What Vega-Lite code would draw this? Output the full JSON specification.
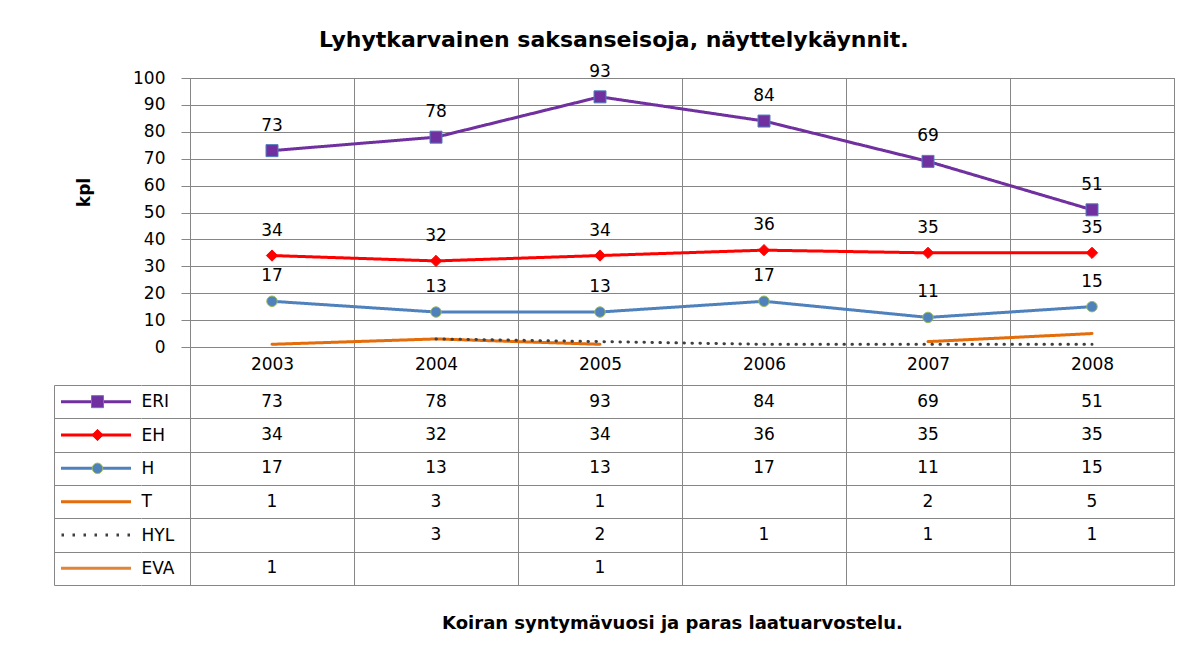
{
  "$schema": "https://vega.github.io/schema/vega-lite/v6.json",
  "background": "white",
  "padding": {"left": 52, "top": 29, "right": 5, "bottom": 5},
  "title": {
    "text": "Lyhytkarvainen saksanseisoja, näyttelykäynnit.",
    "font": "DejaVu Sans",
    "fontSize": 22,
    "fontWeight": "bold",
    "color": "#000000",
    "anchor": "middle",
    "offset": 10
  },
  "datasets": {
    "counts": [
      {"series": "ERI", "year": 2003, "value": 73},
      {"series": "ERI", "year": 2004, "value": 78},
      {"series": "ERI", "year": 2005, "value": 93},
      {"series": "ERI", "year": 2006, "value": 84},
      {"series": "ERI", "year": 2007, "value": 69},
      {"series": "ERI", "year": 2008, "value": 51},
      {"series": "EH", "year": 2003, "value": 34},
      {"series": "EH", "year": 2004, "value": 32},
      {"series": "EH", "year": 2005, "value": 34},
      {"series": "EH", "year": 2006, "value": 36},
      {"series": "EH", "year": 2007, "value": 35},
      {"series": "EH", "year": 2008, "value": 35},
      {"series": "H", "year": 2003, "value": 17},
      {"series": "H", "year": 2004, "value": 13},
      {"series": "H", "year": 2005, "value": 13},
      {"series": "H", "year": 2006, "value": 17},
      {"series": "H", "year": 2007, "value": 11},
      {"series": "H", "year": 2008, "value": 15},
      {"series": "T", "year": 2003, "value": 1},
      {"series": "T", "year": 2004, "value": 3},
      {"series": "T", "year": 2005, "value": 1},
      {"series": "T", "year": 2006, "value": null},
      {"series": "T", "year": 2007, "value": 2},
      {"series": "T", "year": 2008, "value": 5},
      {"series": "HYL", "year": 2003, "value": null},
      {"series": "HYL", "year": 2004, "value": 3},
      {"series": "HYL", "year": 2005, "value": 2},
      {"series": "HYL", "year": 2006, "value": 1},
      {"series": "HYL", "year": 2007, "value": 1},
      {"series": "HYL", "year": 2008, "value": 1},
      {"series": "EVA", "year": 2003, "value": 1},
      {"series": "EVA", "year": 2004, "value": null},
      {"series": "EVA", "year": 2005, "value": 1},
      {"series": "EVA", "year": 2006, "value": null},
      {"series": "EVA", "year": 2007, "value": null},
      {"series": "EVA", "year": 2008, "value": null}
    ]
  },
  "columns": 2,
  "spacing": {"row": 38, "column": 49},
  "bounds": "flush",
  "align": "each",
  "resolve": {"scale": {"strokeDash": "independent"}},
  "concat": [
    {
      "width": 87,
      "height": 269,
      "data": {"values": [{}]},
      "view": {"stroke": null},
      "mark": {"type": "text", "text": ""},
      "encoding": {}
    },
    {
      "width": 984,
      "height": 269,
      "data": {"name": "counts"},
      "encoding": {
        "x": {
          "field": "year",
          "type": "ordinal",
          "bandPosition": 0.5,
          "scale": {"type": "band", "domain": [2003, 2004, 2005, 2006, 2007, 2008], "paddingInner": 0, "paddingOuter": 0},
          "axis": {
            "title": null,
            "tickBand": "extent",
            "grid": true,
            "ticks": true,
            "tickSize": 38,
            "labelPadding": -21,
            "labelBaseline": "middle",
            "labelAngle": 0,
            "domain": true
          }
        },
        "y": {
          "field": "value",
          "type": "quantitative",
          "scale": {"domain": [0, 100], "nice": false},
          "axis": {
            "values": [0, 10, 20, 30, 40, 50, 60, 70, 80, 90, 100],
            "title": "kpl",
            "titleFontWeight": "bold",
            "titleFontSize": 17,
            "titleX": -106,
            "titleY": 114,
            "titleAngle": -90,
            "titleBaseline": "middle",
            "titleAlign": "center",
            "tickSize": 9,
            "labelPadding": 16,
            "grid": true
          }
        }
      },
      "layer": [
        {
          "mark": {"type": "line", "strokeWidth": 3, "strokeCap": "round", "strokeJoin": "round", "invalid": "break-paths-show-domains"},
          "encoding": {
            "color": {
              "field": "series",
              "type": "nominal",
              "scale": {
                "domain": ["ERI", "EH", "H", "T", "HYL", "EVA"],
                "range": ["#7030a0", "#ff0000", "#4f81bd", "#e46c0a", "#404040", "#e0843a"]
              }
            },
            "strokeDash": {
              "field": "series",
              "type": "nominal",
              "scale": {
                "domain": ["ERI", "EH", "H", "T", "HYL", "EVA"],
                "range": [[1, 0], [1, 0], [1, 0], [1, 0], [0.5, 7.5], [1, 0]]
              }
            }
          }
        },
        {
          "transform": [{"filter": {"field": "series", "oneOf": ["ERI", "EH", "H"]}}],
          "mark": {"type": "point", "filled": true, "opacity": 1, "strokeWidth": 1},
          "encoding": {
            "shape": {
              "field": "series",
              "type": "nominal",
              "scale": {"domain": ["ERI", "EH", "H"], "range": ["square", "diamond", "circle"]}
            },
            "fill": {
              "field": "series",
              "type": "nominal",
              "scale": {"domain": ["ERI", "EH", "H"], "range": ["#7030a0", "#ff0000", "#4f81bd"]}
            },
            "stroke": {
              "field": "series",
              "type": "nominal",
              "scale": {"domain": ["ERI", "EH", "H"], "range": ["#4f81bd", "#ff0000", "#9bbb59"]}
            },
            "size": {
              "field": "series",
              "type": "nominal",
              "scale": {"domain": ["ERI", "EH", "H"], "range": [144, 110, 100]}
            }
          }
        },
        {
          "transform": [{"filter": {"field": "series", "oneOf": ["ERI", "EH", "H"]}}],
          "mark": {"type": "text", "dy": -25},
          "encoding": {
            "text": {"field": "value", "type": "quantitative"}
          }
        }
      ]
    },
    {
      "width": 87,
      "height": 200,
      "data": {"name": "counts"},
      "transform": [{"aggregate": [], "groupby": ["series"]}],
      "view": {"stroke": null},
      "encoding": {
        "y": {
          "field": "series",
          "type": "nominal",
          "bandPosition": 0.5,
          "scale": {"type": "band", "domain": ["ERI", "EH", "H", "T", "HYL", "EVA"], "paddingInner": 0, "paddingOuter": 0},
          "axis": {"title": null, "labels": false, "ticks": false, "domain": true, "grid": true, "tickBand": "extent"}
        }
      },
      "layer": [
        {
          "mark": {"type": "rule", "strokeWidth": 3, "strokeCap": "butt"},
          "encoding": {
            "color": {
              "field": "series",
              "type": "nominal",
              "scale": {
                "domain": ["ERI", "EH", "H", "T", "HYL", "EVA"],
                "range": ["#7030a0", "#ff0000", "#4f81bd", "#e46c0a", "#404040", "#e0843a"]
              }
            },
            "strokeDash": {
              "field": "series",
              "type": "nominal",
              "scale": {
                "domain": ["ERI", "EH", "H", "T", "HYL", "EVA"],
                "range": [
                  [0, 10, 70, 200],
                  [0, 10, 70, 200],
                  [0, 10, 70, 200],
                  [0, 10, 70, 200],
                  [0, 11, 2.5, 8.5, 2.5, 8.5, 2.5, 8.5, 2.5, 8.5, 2.5, 8.5, 2.5, 8.5, 2.5, 200],
                  [0, 10, 70, 200]
                ]
              }
            }
          }
        },
        {
          "transform": [{"filter": {"field": "series", "oneOf": ["ERI", "EH", "H"]}}],
          "mark": {"type": "point", "filled": true, "opacity": 1, "strokeWidth": 1},
          "encoding": {
            "shape": {
              "field": "series",
              "type": "nominal",
              "scale": {"domain": ["ERI", "EH", "H"], "range": ["square", "diamond", "circle"]}
            },
            "fill": {
              "field": "series",
              "type": "nominal",
              "scale": {"domain": ["ERI", "EH", "H"], "range": ["#7030a0", "#ff0000", "#4f81bd"]}
            },
            "stroke": {
              "field": "series",
              "type": "nominal",
              "scale": {"domain": ["ERI", "EH", "H"], "range": ["#4f81bd", "#ff0000", "#9bbb59"]}
            },
            "size": {
              "field": "series",
              "type": "nominal",
              "scale": {"domain": ["ERI", "EH", "H"], "range": [144, 110, 100]}
            }
          }
        }
      ]
    },
    {
      "width": 984,
      "height": 200,
      "data": {"name": "counts"},
      "transform": [{"filter": "datum.value != null"}],
      "mark": {"type": "text"},
      "encoding": {
        "x": {
          "field": "year",
          "type": "ordinal",
          "bandPosition": 0.5,
          "scale": {"type": "band", "domain": [2003, 2004, 2005, 2006, 2007, 2008], "paddingInner": 0, "paddingOuter": 0},
          "axis": {
            "title": "Koiran syntymävuosi ja paras laatuarvostelu.",
            "titleFontWeight": "bold",
            "titleFontSize": 18,
            "titlePadding": 29,
            "titleX": 482,
            "titleAlign": "center",
            "labels": false,
            "ticks": false,
            "domain": false,
            "grid": true,
            "tickBand": "extent"
          }
        },
        "y": {
          "field": "series",
          "type": "nominal",
          "bandPosition": 0.5,
          "scale": {"type": "band", "domain": ["ERI", "EH", "H", "T", "HYL", "EVA"], "paddingInner": 0, "paddingOuter": 0},
          "axis": {
            "title": null,
            "tickBand": "extent",
            "grid": true,
            "ticks": true,
            "tickSize": 49,
            "labelAlign": "left",
            "labelBaseline": "middle",
            "labelPadding": 0,
            "domain": false
          }
        },
        "text": {"field": "value", "type": "quantitative"}
      }
    }
  ],
  "config": {
    "view": {"stroke": "#868686", "strokeWidth": 1},
    "axis": {
      "labelFont": "DejaVu Sans",
      "labelFontSize": 17,
      "labelColor": "#000000",
      "titleFont": "DejaVu Sans",
      "titleColor": "#000000",
      "gridColor": "#868686",
      "gridOpacity": 1,
      "domainColor": "#868686",
      "tickColor": "#868686",
      "tickWidth": 1,
      "domainWidth": 1,
      "gridWidth": 1
    },
    "text": {"font": "DejaVu Sans", "fontSize": 17, "color": "#000000"},
    "legend": {"disable": true}
  }
}
